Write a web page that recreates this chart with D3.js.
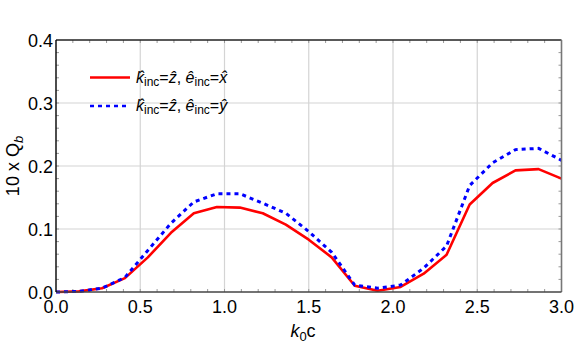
<!DOCTYPE html>
<html><head><meta charset="utf-8">
<script src="https://cdn.jsdelivr.net/npm/d3@7"></script>
<style>body{margin:0;background:#fff}svg{display:block}text{font-family:"Liberation Sans",Arial,sans-serif}</style>
</head><body>
<svg id="c" width="576" height="343"></svg>
<script>
const xVals = [0, 0.136, 0.273, 0.409, 0.545, 0.682, 0.818, 0.955, 1.091, 1.227, 1.364, 1.5, 1.636, 1.773, 1.909, 2.045, 2.182, 2.318, 2.455, 2.591, 2.727, 2.864, 3.0];
const redVals = [0, 0.001, 0.006, 0.022, 0.055, 0.094, 0.125, 0.135, 0.134, 0.125, 0.107, 0.083, 0.055, 0.010, 0.002, 0.008, 0.029, 0.059, 0.139, 0.173, 0.193, 0.195, 0.180];
const blueVals = [0, 0.001, 0.006, 0.023, 0.066, 0.109, 0.143, 0.156, 0.156, 0.141, 0.125, 0.096, 0.063, 0.011, 0.006, 0.011, 0.038, 0.073, 0.169, 0.205, 0.226, 0.228, 0.209];
const xTicks = [0, 0.5, 1.0, 1.5, 2.0, 2.5, 3.0];
const yTicks = [0, 0.1, 0.2, 0.3, 0.4];

const svg = d3.select("#c");
const L = 56, R = 561.5, T = 40, B = 292;
const x = d3.scaleLinear().domain([0, 3]).range([L, R]);
const y = d3.scaleLinear().domain([0, 0.4]).range([B, T]);

// grid
svg.append("g").selectAll("line").data(xTicks.slice(1, -1)).join("line")
  .attr("x1", d => x(d)).attr("x2", d => x(d)).attr("y1", T).attr("y2", B)
  .attr("stroke", "#d4d4d4").attr("stroke-width", 1.2);
svg.append("g").selectAll("line").data(yTicks.slice(1, -1)).join("line")
  .attr("y1", d => y(d)).attr("y2", d => y(d)).attr("x1", L).attr("x2", R)
  .attr("stroke", "#d4d4d4").attr("stroke-width", 1.2);

// minor inward ticks
const xm = d3.range(1, 30).map(i => i / 10);
const ym = d3.range(1, 20).map(i => i / 50);
const tk = svg.append("g").attr("stroke", "#999").attr("stroke-width", 1);
tk.selectAll(".a").data(xm).join("line").attr("x1", d => x(d)).attr("x2", d => x(d)).attr("y1", T).attr("y2", T + 3);
tk.selectAll(".b").data(xm).join("line").attr("x1", d => x(d)).attr("x2", d => x(d)).attr("y1", B).attr("y2", B - 3);
tk.selectAll(".c").data(ym).join("line").attr("y1", d => y(d)).attr("y2", d => y(d)).attr("x1", L).attr("x2", L + 3);
tk.selectAll(".d").data(ym).join("line").attr("y1", d => y(d)).attr("y2", d => y(d)).attr("x1", R).attr("x2", R - 3);

// lines
const line = d3.line().x((d, i) => x(xVals[i])).y(d => y(d));
svg.append("path").datum(redVals).attr("d", line).attr("fill", "none")
  .attr("stroke", "#ff0000").attr("stroke-width", 2.6).attr("stroke-linejoin", "round");
svg.append("path").datum(blueVals).attr("d", line).attr("fill", "none")
  .attr("stroke", "#0000ff").attr("stroke-width", 3).attr("stroke-dasharray", "4,4");

// frame
svg.append("line").attr("x1", L).attr("x2", R).attr("y1", T).attr("y2", T).attr("stroke", "#222").attr("stroke-width", 1.3);
svg.append("line").attr("x1", R).attr("x2", R).attr("y1", T).attr("y2", B).attr("stroke", "#777").attr("stroke-width", 1.6);
svg.append("line").attr("x1", L).attr("x2", R).attr("y1", B).attr("y2", B).attr("stroke", "#444").attr("stroke-width", 1.4);
svg.append("line").attr("x1", L).attr("x2", L).attr("y1", T).attr("y2", B).attr("stroke", "#000").attr("stroke-width", 1.4);

// tick labels
svg.append("g").selectAll("text").data(xTicks).join("text")
  .attr("x", d => x(d)).attr("y", 313).attr("text-anchor", "middle")
  .attr("font-size", 18).text(d => d.toFixed(1));
svg.append("g").selectAll("text").data(yTicks).join("text")
  .attr("x", 53).attr("y", d => y(d) + 6.5).attr("text-anchor", "end")
  .attr("font-size", 18).text(d => d.toFixed(1));

// axis titles
const xt = svg.append("text").attr("x", 303).attr("y", 337).attr("text-anchor", "middle").attr("font-size", 18);
xt.append("tspan").attr("font-style", "italic").text("k");
xt.append("tspan").attr("font-size", 13).attr("dy", 4).text("0");
xt.append("tspan").attr("dy", -4).text("c");

const yt = svg.append("text").attr("transform", "translate(19,166) rotate(-90)").attr("text-anchor", "middle").attr("font-size", 18);
yt.append("tspan").text("10 x Q");
yt.append("tspan").attr("font-size", 13).attr("font-style", "italic").attr("dy", 4).text("b");

// legend
const leg = [
  {color: "#ff0000", dash: null, y: 77.5, e: "x\u0302"},
  {color: "#0000ff", dash: "4,4", y: 106, e: "y\u0302"}
];
leg.forEach(l => {
  svg.append("line").attr("x1", 90).attr("x2", 130).attr("y1", l.y).attr("y2", l.y)
    .attr("stroke", l.color).attr("stroke-width", 2.6).attr("stroke-dasharray", l.dash);
  const t = svg.append("text").attr("x", 136).attr("y", l.y + 5).attr("font-size", 16);
  t.append("tspan").attr("font-style", "italic").text("k\u0302");
  t.append("tspan").attr("font-size", 12).attr("dy", 3).text("inc");
  t.append("tspan").attr("dy", -3).text("=");
  t.append("tspan").attr("font-style", "italic").text("z\u0302");
  t.append("tspan").text(", ");
  t.append("tspan").attr("font-style", "italic").text("e\u0302");
  t.append("tspan").attr("font-size", 12).attr("dy", 3).text("inc");
  t.append("tspan").attr("dy", -3).text("=");
  t.append("tspan").attr("font-style", "italic").text(l.e);
});
</script>
</body></html>
